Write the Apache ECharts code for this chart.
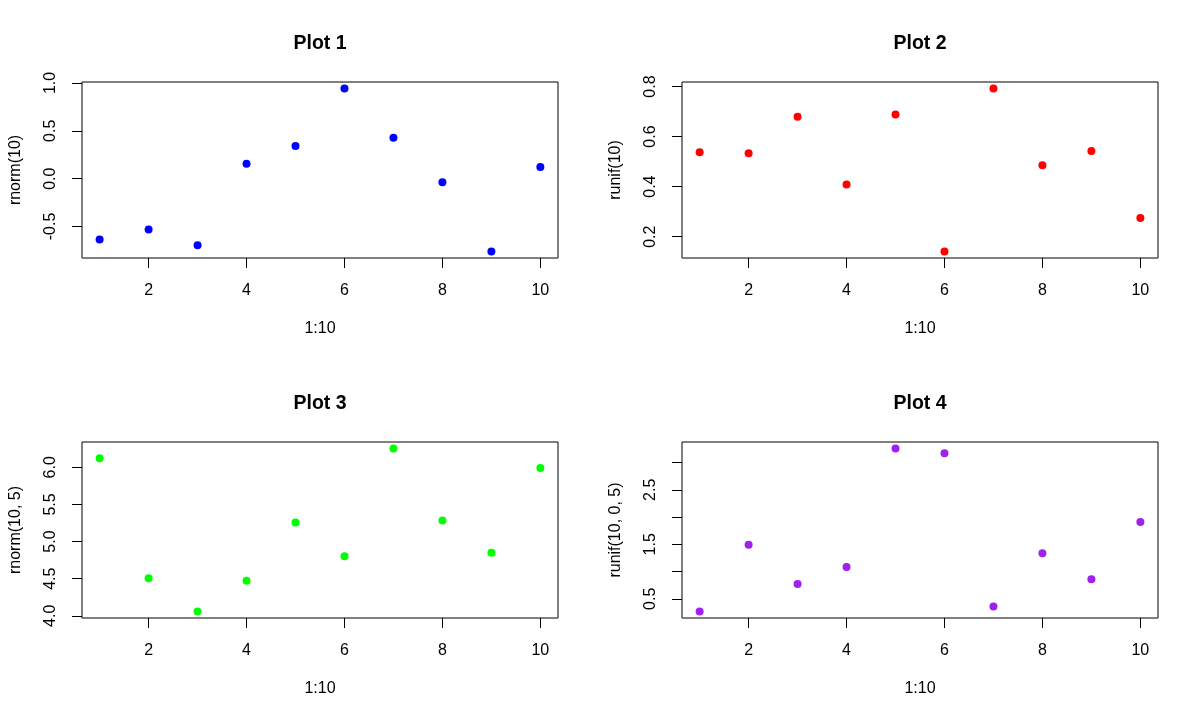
<!DOCTYPE html>
<html>
<head>
<meta charset="utf-8">
<script src="https://cdn.jsdelivr.net/npm/echarts@6/dist/echarts.min.js"></script>
<style>
html, body { margin: 0; padding: 0; background: #ffffff; }
#chart { width: 1200px; height: 720px; }
</style>
</head>
<body>
<div id="chart"></div>
<script>
// ---- data ----
const xValues = [1, 2, 3, 4, 5, 6, 7, 8, 9, 10];
const plot1Y = [-0.637, -0.532, -0.696, 0.157, 0.341, 0.942, 0.428, -0.038, -0.761, 0.122];
const plot2Y = [0.537, 0.533, 0.679, 0.409, 0.688, 0.141, 0.792, 0.485, 0.542, 0.275];
const plot3Y = [6.121, 4.507, 4.058, 4.471, 5.256, 4.803, 6.253, 5.283, 4.848, 5.991];
const plot4Y = [0.268, 1.494, 0.774, 1.085, 3.258, 3.171, 0.360, 1.335, 0.860, 1.909];

const titles = ['Plot 1', 'Plot 2', 'Plot 3', 'Plot 4'];
const xLabelText = '1:10';
const yLabelTexts = ['rnorm(10)', 'runif(10)', 'rnorm(10, 5)', 'runif(10, 0, 5)'];
const colors = ['#0000FF', '#FF0000', '#00FF00', '#A020F0'];

const xTicks = [2, 4, 6, 8, 10];
const y1Ticks = [-0.5, 0, 0.5, 1.0];
const y2Ticks = [0.2, 0.4, 0.6, 0.8];
const y3Ticks = [4.0, 4.5, 5.0, 5.5, 6.0];
const y4Ticks = [0.5, 1.0, 1.5, 2.0, 2.5, 3.0];
const y4Labels = [0.5, 1.5, 2.5];

// ---- layout ----
const FONT = 'Liberation Sans, Arial, Helvetica, sans-serif';
const panels = [
  { y: plot1Y, yTicks: y1Ticks, yLabels: y1Ticks, left: 82, top: 82 },
  { y: plot2Y, yTicks: y2Ticks, yLabels: y2Ticks, left: 682, top: 82 },
  { y: plot3Y, yTicks: y3Ticks, yLabels: y3Ticks, left: 82, top: 442 },
  { y: plot4Y, yTicks: y4Ticks, yLabels: y4Labels, left: 682, top: 442 }
];
const W = 476, H = 176;

// R-style 4% axis extension
function rRange(arr) {
  const mn = Math.min.apply(null, arr), mx = Math.max.apply(null, arr);
  const d = mx - mn;
  return [mn - 0.04 * d, mx + 0.04 * d];
}
const xr = rRange(xValues);

const option = {
  animation: false,
  backgroundColor: '#ffffff',
  title: [],
  grid: [],
  xAxis: [],
  yAxis: [],
  series: []
};

panels.forEach(function (p, i) {
  const yr = rRange(p.y);
  option.title.push({
    text: titles[i],
    left: p.left + W / 2,
    textAlign: 'center',
    padding: 0,
    top: p.top - 48,
    textStyle: { fontFamily: FONT, fontSize: 19.5, fontWeight: 'bold', color: '#000' }
  });
  option.grid.push({
    left: p.left, top: p.top, width: W, height: H,
    show: true, borderColor: '#000', borderWidth: 1, backgroundColor: 'transparent',
    containLabel: false
  });
  option.xAxis.push({
    type: 'value', gridIndex: i, min: xr[0], max: xr[1],
    name: xLabelText, nameLocation: 'middle', nameGap: 63,
    nameTextStyle: { fontFamily: FONT, fontSize: 16, color: '#000' },
    axisLine: { show: false, onZero: false },
    axisTick: { show: true, length: 10, customValues: xTicks, lineStyle: { color: '#000', width: 1 } },
    axisLabel: { customValues: xTicks, margin: 25, fontFamily: FONT, fontSize: 16, color: '#000',
      formatter: function (v) { return String(v); } },
    splitLine: { show: false }
  });
  option.yAxis.push({
    type: 'value', gridIndex: i, min: yr[0], max: yr[1],
    name: yLabelTexts[i], nameLocation: 'middle', nameGap: 58, nameRotate: 90,
    nameTextStyle: { fontFamily: FONT, fontSize: 16, color: '#000' },
    axisLine: { show: false, onZero: false },
    axisTick: { show: true, length: 10, customValues: p.yTicks, lineStyle: { color: '#000', width: 1 } },
    axisLabel: { customValues: p.yLabels, rotate: 90, margin: 23, fontFamily: FONT, fontSize: 16, color: '#000',
      formatter: function (v) { return Number(v).toFixed(1); } },
    splitLine: { show: false }
  });
  option.series.push({
    type: 'scatter', xAxisIndex: i, yAxisIndex: i,
    symbol: 'circle', symbolSize: 8,
    itemStyle: { color: colors[i], opacity: 1 },
    data: xValues.map(function (x, k) { return [x, p.y[k]]; })
  });
});

const chart = echarts.init(document.getElementById('chart'), null, { renderer: 'canvas' });
chart.setOption(option);
</script>
</body>
</html>
